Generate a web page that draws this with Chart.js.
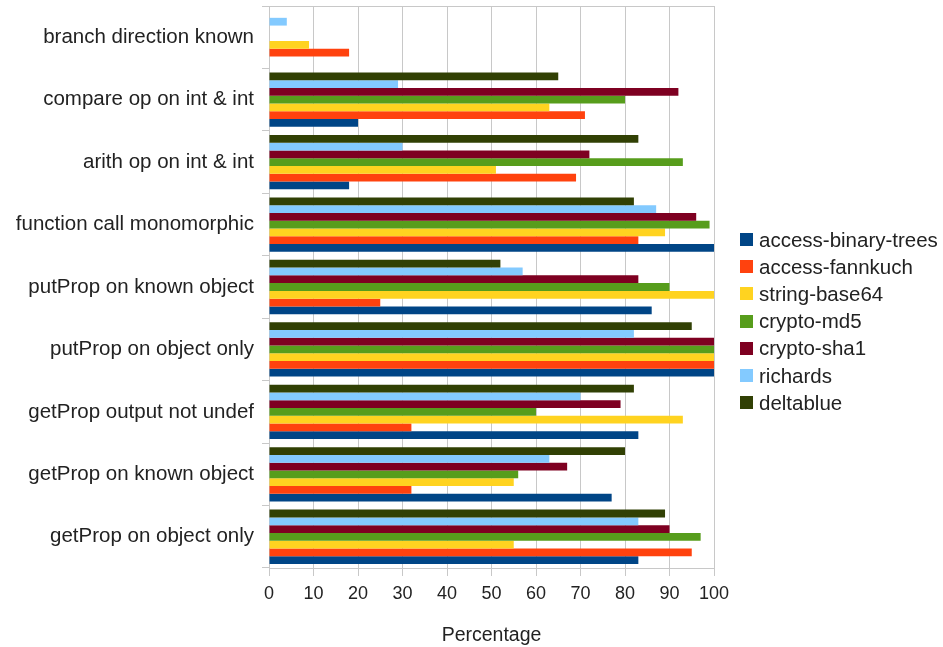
<!DOCTYPE html>
<html>
<head>
<meta charset="utf-8">
<script src="https://cdn.jsdelivr.net/npm/chart.js@4/dist/chart.umd.min.js"></script>
<style>
  html, body { margin: 0; padding: 0; background: #fff; }
  #wrap { width: 943px; height: 647px; position: relative; }
  #legend {
    position: absolute; left: 740px; top: 226px;
    font-family: 'Liberation Sans', Arial, sans-serif; font-size: 20.5px; color: #222;
  }
  #legend .row { height: 27.2px; display: flex; align-items: center; white-space: nowrap; }
  #legend .box { width: 13px; height: 13px; margin-right: 6px; flex: none; }
</style>
</head>
<body>
<div id="wrap">
  <canvas id="chart" width="943" height="647"></canvas>
  <div id="legend"></div>
</div>
<script>
const categories = [
  "branch direction known",
  "compare op on int & int",
  "arith op on int & int",
  "function call monomorphic",
  "putProp on known object",
  "putProp on object only",
  "getProp output not undef",
  "getProp on known object",
  "getProp on object only",
];

const accessBinaryTrees = [0, 20, 18, 100, 86, 100, 83, 77, 83];
const accessFannkuch = [18, 71, 69, 83, 25, 100, 32, 32, 95];
const stringBase64 = [9, 63, 51, 89, 100, 100, 93, 55, 55];
const cryptoMd5 = [0, 80, 93, 99, 90, 100, 60, 56, 97];
const cryptoSha1 = [0, 92, 72, 96, 83, 100, 79, 67, 90];
const richards = [4, 29, 30, 87, 57, 82, 70, 63, 83];
const deltablue = [0, 65, 83, 82, 52, 95, 82, 80, 89];

const xTicks = [0, 10, 20, 30, 40, 50, 60, 70, 80, 90, 100];

// bottom-to-top inside a group, so listed in reverse
const series = [
  { label: "deltablue", data: deltablue, color: "#314004" },
  { label: "richards", data: richards, color: "#83caff" },
  { label: "crypto-sha1", data: cryptoSha1, color: "#7e0021" },
  { label: "crypto-md5", data: cryptoMd5, color: "#579d1c" },
  { label: "string-base64", data: stringBase64, color: "#ffd320" },
  { label: "access-fannkuch", data: accessFannkuch, color: "#ff420e" },
  { label: "access-binary-trees", data: accessBinaryTrees, color: "#004586" },
];

Chart.defaults.font.family = "'Liberation Sans', Arial, sans-serif";
Chart.defaults.color = "#222";

const frame = {
  id: "frame",
  afterDatasetsDraw(chart) {
    const { ctx, chartArea } = chart;
    ctx.save();
    ctx.strokeStyle = "#c8c8c8";
    ctx.lineWidth = 1;
    ctx.beginPath();
    ctx.moveTo(chartArea.left, chartArea.top + 0.5);
    ctx.lineTo(chartArea.right + 0.5, chartArea.top + 0.5);
    ctx.lineTo(chartArea.right + 0.5, chartArea.bottom);
    ctx.stroke();
    ctx.restore();
  },
};

new Chart(document.getElementById("chart").getContext("2d"), {
  type: "bar",
  data: {
    labels: categories,
    datasets: series.map((s) => ({
      label: s.label,
      data: s.data,
      backgroundColor: s.color,
      borderWidth: 0,
      categoryPercentage: 0.87,
      barPercentage: 1.0,
    })),
  },
  options: {
    indexAxis: "y",
    responsive: false,
    animation: false,
    devicePixelRatio: 1,
    layout: { padding: { top: 6, left: 4, right: 229, bottom: 0 } },
    plugins: {
      tooltip: { enabled: false },
      legend: { display: false },
    },
    scales: {
      x: {
        min: 0,
        max: 100,
        afterBuildTicks: (scale) => {
          scale.ticks = xTicks.map((v) => ({ value: v }));
        },
        grid: { color: "#c8c8c8", tickLength: 8 },
        border: { color: "#c8c8c8" },
        ticks: { font: { size: 18 }, color: "#222", padding: 7, maxRotation: 0 },
        title: {
          display: true,
          text: "Percentage",
          font: { size: 19.5 },
          color: "#222",
          padding: { top: 12, bottom: 0 },
        },
      },
      y: {
        afterFit: (scale) => {
          scale.width = 265;
          scale.paddingTop = 0;
          scale.paddingBottom = 0;
        },
        grid: { drawOnChartArea: false, color: "#c8c8c8", tickLength: 7, offset: true },
        border: { color: "#c8c8c8" },
        ticks: { font: { size: 20.5 }, color: "#222", padding: 8 },
      },
    },
  },
  plugins: [frame],
});

// legend, top to bottom in the reference order
const legend = document.getElementById("legend");
series.slice().reverse().forEach((s) => {
  const row = document.createElement("div");
  row.className = "row";
  const box = document.createElement("span");
  box.className = "box";
  box.style.background = s.color;
  const text = document.createElement("span");
  text.textContent = s.label;
  row.appendChild(box);
  row.appendChild(text);
  legend.appendChild(row);
});
</script>
</body>
</html>
